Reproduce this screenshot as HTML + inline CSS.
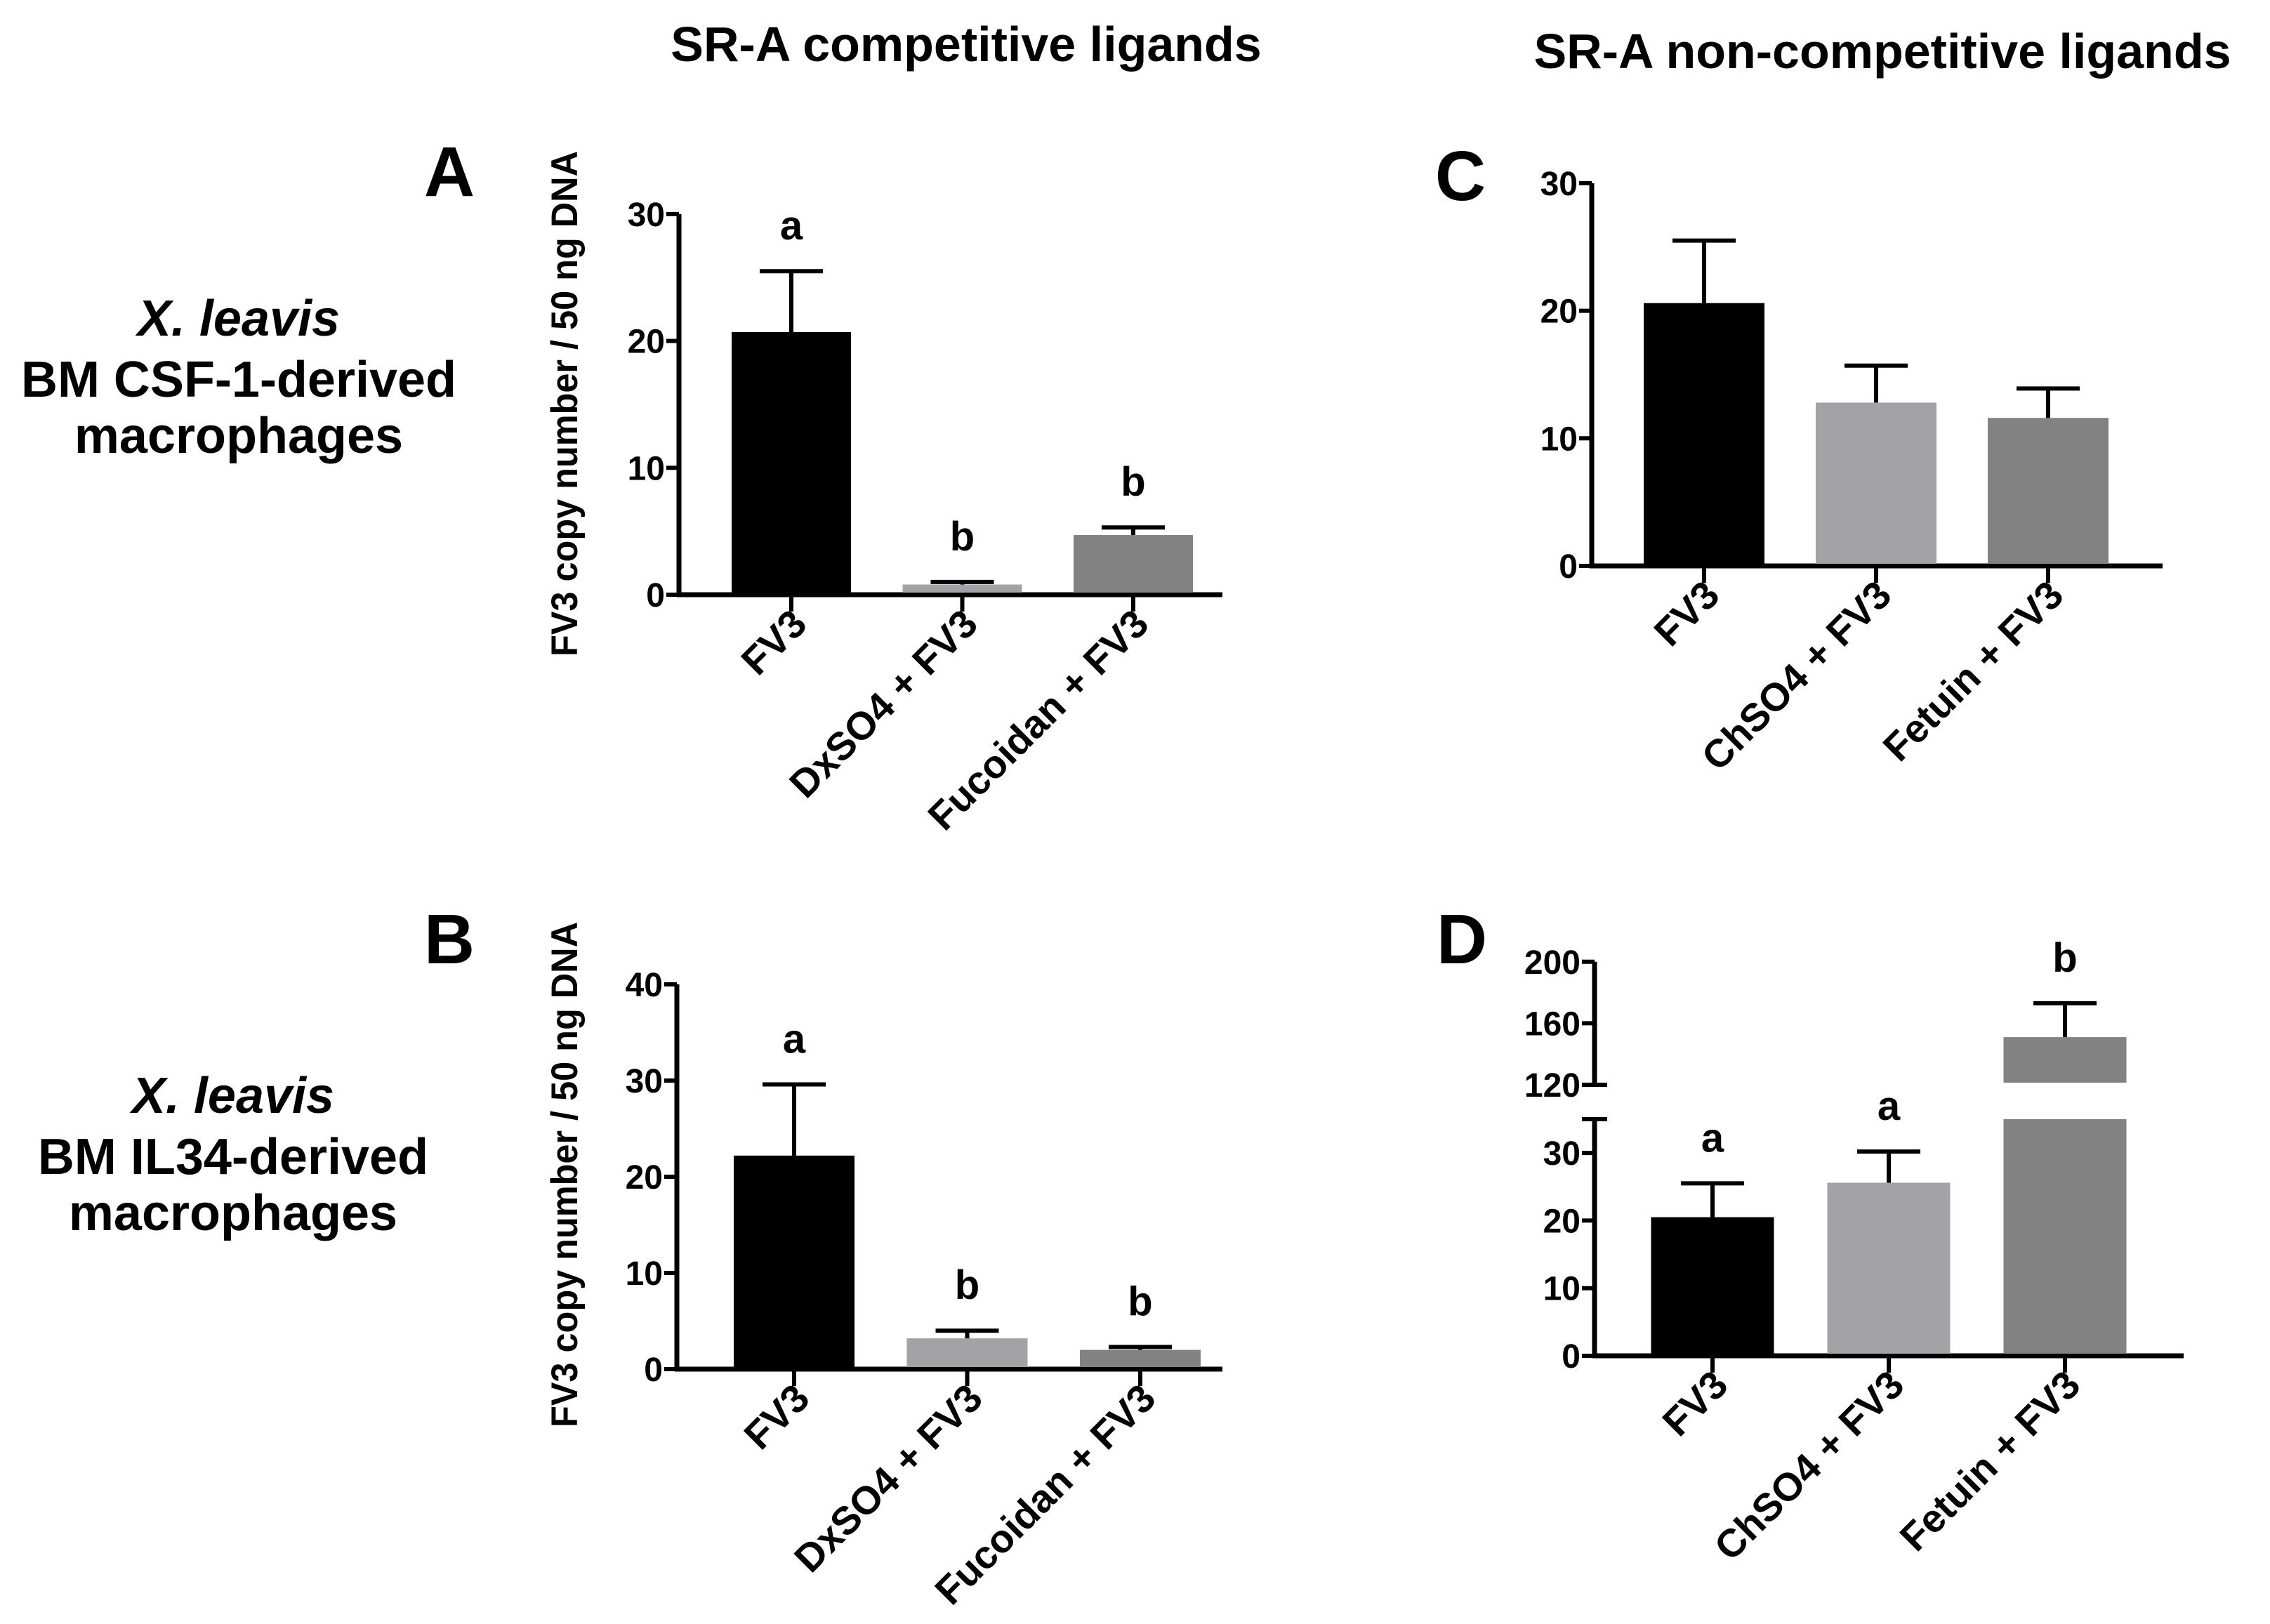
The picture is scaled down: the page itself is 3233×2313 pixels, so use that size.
<!DOCTYPE html>
<html><head><meta charset="utf-8"><style>
html,body{margin:0;padding:0;background:#fff}
svg{display:block}
text{font-family:"Liberation Sans",Arial,sans-serif;font-weight:bold;fill:#000}
</style></head><body>
<svg id="fig" width="3233" height="2313" viewBox="0 0 3233 2313" xmlns="http://www.w3.org/2000/svg">
<text x="1376" y="87" font-size="70" text-anchor="middle">SR-A competitive ligands</text>
<text x="2681" y="97" font-size="70" text-anchor="middle">SR-A non-competitive ligands</text>
<text x="640" y="279" font-size="100" text-anchor="middle">A</text>
<text x="640" y="1372" font-size="100" text-anchor="middle">B</text>
<text x="2080" y="285" font-size="100" text-anchor="middle">C</text>
<text x="2082" y="1372" font-size="100" text-anchor="middle">D</text>
<g>
<text x="340" y="478" font-size="72" text-anchor="middle" font-style="italic">X. leavis</text>
<text x="340" y="565" font-size="72" text-anchor="middle">BM CSF-1-derived</text>
<text x="340" y="645" font-size="72" text-anchor="middle">macrophages</text>
</g>
<g>
<text x="332" y="1585" font-size="72" text-anchor="middle" font-style="italic">X. leavis</text>
<text x="332" y="1672" font-size="72" text-anchor="middle">BM IL34-derived</text>
<text x="332" y="1752" font-size="72" text-anchor="middle">macrophages</text>
</g>
<text transform="translate(822,575) rotate(-90)" font-size="53" text-anchor="middle" textLength="720" lengthAdjust="spacingAndGlyphs">FV3 copy number / 50 ng DNA</text>
<text transform="translate(822,1673) rotate(-90)" font-size="53" text-anchor="middle" textLength="720" lengthAdjust="spacingAndGlyphs">FV3 copy number / 50 ng DNA</text>
</svg>
<script>
const catsA = ["FV3", "DxSO4 + FV3", "Fucoidan + FV3"];
const valsA = [20.7, 0.8, 4.7];
const semA = [4.8, 0.2, 0.6];
const lettersA = ["a", "b", "b"];
const ticksA = [0, 10, 20, 30];

const catsB = ["FV3", "DxSO4 + FV3", "Fucoidan + FV3"];
const valsB = [22.2, 3.2, 2.0];
const semB = [7.4, 0.8, 0.3];
const lettersB = ["a", "b", "b"];
const ticksB = [0, 10, 20, 30, 40];

const catsC = ["FV3", "ChSO4 + FV3", "Fetuin + FV3"];
const valsC = [20.6, 12.8, 11.6];
const semC = [4.9, 2.9, 2.3];
const lettersC = ["", "", ""];
const ticksC = [0, 10, 20, 30];

const catsD = ["FV3", "ChSO4 + FV3", "Fetuin + FV3"];
const valsD = [20.5, 25.6, 151];
const semD = [5.0, 4.6, 22];
const lettersD = ["a", "a", "b"];
const ticksDLow = [0, 10, 20, 30];
const ticksDHigh = [120, 160, 200];

const colors = ["#000000", "#a3a2a6", "#828282"];
const NS = "http://www.w3.org/2000/svg";
const svg = document.getElementById("fig");

function mk(tag, attrs, parent) {
  const e = document.createElementNS(NS, tag);
  for (const k in attrs) e.setAttribute(k, attrs[k]);
  (parent || svg).appendChild(e);
  return e;
}
function line(g, x1, y1, x2, y2, w) {
  return mk("line", {x1, y1, x2, y2, stroke: "#000", "stroke-width": w || 6}, g);
}

function drawPanel(p, cats, vals, sem, letters) {
  const g = mk("g", {});
  
  
  p.segments.forEach(s => {
    const yl = line(g, p.ax, p.y(s[0]) + 3, p.ax, p.y(s[1]), 7);
    
    
  });
  const xl = line(g, p.ax - 3, p.y(0), p.axEnd, p.y(0), 7);
  
  
  p.ticks.forEach(t => {
    const ty = p.y(t);
    line(g, p.ax - 18, ty, p.ax, ty, 6);
    const tl = mk("text", {x: p.ax - 20, y: ty + 17, "font-size": 48, "text-anchor": "end"}, g);
    tl.textContent = t;
    
    
  });
  (p.breaks || []).forEach(b => { line(g, p.ax - 18, p.y(b), p.ax + 18, p.y(b), 6); });
  cats.forEach((c, i) => {
    const cx = p.x0 + i * p.step;
    const parts = p.barParts ? p.barParts(vals[i]) : [[0, vals[i]]];
    parts.forEach(pt => {
      const y1 = p.y(pt[1]), y0 = p.y(pt[0]);
      const r = mk("rect", {x: cx - p.bw / 2, y: y1, width: p.bw, height: Math.max(0, y0 - y1 - 3), fill: colors[i]}, g);
      
      
    });
    const top = p.y(vals[i] + sem[i]);
    const eg = mk("g", {}, g);
    
    
    line(eg, cx, p.y(vals[i]), cx, top, 6);
    line(eg, cx - 45, top, cx + 45, top, 6);
    if (letters[i]) {
      const lt = mk("text", {x: cx, y: top - 45, "font-size": 58, "text-anchor": "middle"}, g);
      lt.textContent = letters[i];
      
      
    }
    line(g, cx, p.y(0), cx, p.y(0) + 24, 6);
    const ax = cx + 25, ay = p.y(0) + 45;
    const cl = mk("text", {x: ax, y: ay, "font-size": 56, "text-anchor": "end", transform: `rotate(-45 ${ax} ${ay})`}, g);
    cl.textContent = c;
    
    
  });
}

function lin(y0px, pxPerUnit) { return v => y0px - v * pxPerUnit; }

drawPanel({name: "panel-a-chart", ax: 967, axEnd: 1741, y: lin(847, 18.07), segments: [[0, 30]], ticks: ticksA, x0: 1127, step: 243.5, bw: 170}, catsA, valsA, semA, lettersA);
drawPanel({name: "panel-b-chart", ax: 964, axEnd: 1741, y: lin(1950, 13.7), segments: [[0, 40]], ticks: ticksB, x0: 1131, step: 246.5, bw: 172}, catsB, valsB, semB, lettersB);
drawPanel({name: "panel-c-chart", ax: 2267, axEnd: 3080, y: lin(806, 18.17), segments: [[0, 30]], ticks: ticksC, x0: 2427, step: 245, bw: 172}, catsC, valsC, semC, lettersC);

const yD = v => v <= 35 ? 1931 - v * 9.63 : 1545 - (v - 120) * 2.19;
drawPanel({name: "panel-d-chart", ax: 2271, axEnd: 3110, y: yD, segments: [[0, 35], [120, 200]], ticks: ticksDLow.concat(ticksDHigh), breaks: [35, 120], x0: 2439, step: 251, bw: 175,
  barParts: v => v > 35 ? [[0, 35], [120, v]] : [[0, v]]}, catsD, valsD, semD, lettersD);
</script>
</body></html>
